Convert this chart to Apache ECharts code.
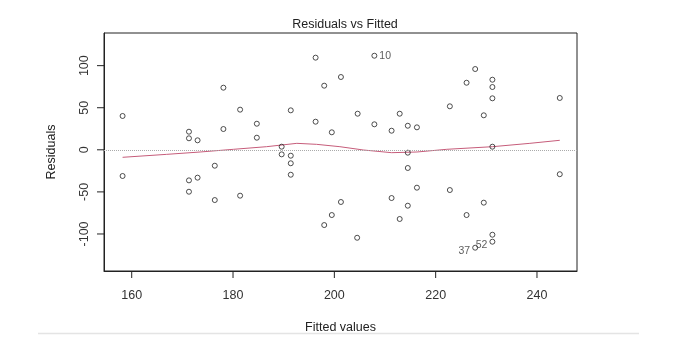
<!DOCTYPE html>
<html>
<head>
<meta charset="utf-8">
<title>Residuals vs Fitted</title>
<script src="https://cdn.jsdelivr.net/npm/echarts@6/dist/echarts.min.js"></script>
<style>
  html, body { margin: 0; padding: 0; background: #fff; }
  #residualChart { width: 674px; height: 354px; }
</style>
</head>
<body>
<div id="residualChart"></div>
<script>
// fitted values / residuals
const fitted = [
  158.2, 171.3, 171.3, 173.0, 178.1, 178.1, 181.4, 184.7, 184.7, 189.6,
  191.4, 196.3, 196.3, 198.0, 199.5, 201.3, 207.9, 204.6, 207.9, 211.3,
  212.9, 214.5, 216.3, 222.8, 226.1, 227.8, 229.5, 231.2, 231.2, 231.2,
  231.2, 244.5,
  158.2, 171.3, 173.0, 171.3, 176.4, 176.4, 181.4, 189.6, 191.4, 191.4,
  191.4, 198.0, 199.5, 201.3, 204.5, 214.5, 214.5, 216.3, 211.3, 214.5,
  212.9, 222.8, 226.1, 229.5, 231.2, 231.2, 227.8, 244.5
];
const residuals = [
  40.2, 21.5, 13.7, 11.3, 73.8, 24.7, 47.7, 31.0, 14.4, 3.7,
  46.9, 109.5, 33.4, 76.2, 20.8, 86.5, 111.8, 42.9, 30.3, 22.7,
  42.9, 28.6, 26.7, 51.7, 79.7, 96.0, 41.0, 83.3, 74.6, 61.2,
  3.7, 61.6,
  -31.1, -36.3, -33.1, -49.8, -18.9, -59.7, -54.5, -5.4, -7.0, -16.0,
  -29.6, -89.4, -77.5, -62.0, -104.5, -3.4, -21.6, -45.0, -57.3, -66.4,
  -82.2, -47.8, -77.5, -62.8, -100.9, -109.2, -116.3, -29.0
];

// observation ids shown next to points
const labelIndex = [16, 57, 58];
const labelText = ['10', '52', '37'];

// smoother (red line)
const smoothX = [158.2, 166.9, 173.5, 180.1, 186.6, 192.6, 196.5, 201.1, 205.7, 211.3, 216.3, 222.2, 231.2, 238.6, 244.5];
const smoothY = [-8.9, -5.4, -2.6, 0.6, 3.7, 7.7, 6.5, 3.7, -0.2, -3.4, -2.6, 0.6, 3.7, 7.7, 11.3];

// axis ticks
const xTicks = [160, 180, 200, 220, 240];
const yTicks = [-100, -50, 0, 50, 100];

// axis ranges
const xMin = 154.53, xMax = 247.9;
const yMin = -144, yMax = 138.8;

const font = 'Liberation Sans, Arial, sans-serif';

let chart = echarts.init(document.getElementById('residualChart'));

let points = fitted.map(function (x, i) {
  let item = { value: [x, residuals[i]] };
  let k = labelIndex.indexOf(i);
  if (k >= 0) {
    item.label = {
      show: true,
      formatter: labelText[k],
      position: labelText[k] === '10' ? 'right' : 'left',
      distance: 2,
      offset: labelText[k] === '10' ? [0, 0] : [0, 3]
    };
  }
  return item;
});

// tick marks outside the box, drawn through the axes' own scale
function tickSeries(data, horizontal) {
  return {
    type: 'custom',
    clip: false,
    silent: true,
    data: data,
    renderItem: function (params, api) {
      let p = api.coord([api.value(0), api.value(1)]);
      let shape = horizontal
        ? { x1: p[0], y1: p[1], x2: p[0], y2: p[1] + 7 }
        : { x1: p[0] - 7, y1: p[1], x2: p[0], y2: p[1] };
      return { type: 'line', shape: shape, style: { stroke: '#222', lineWidth: 1 } };
    }
  };
}

let option = {
  animation: false,
  title: {
    text: 'Residuals vs Fitted',
    left: 340,
    top: 13,
    textAlign: 'center',
    textStyle: { fontFamily: font, fontSize: 12.5, fontWeight: 'normal', color: '#222' }
  },
  grid: {
    left: 104,
    right: 97,
    top: 33,
    bottom: 83,
    show: true,
    borderColor: '#222'
  },
  xAxis: {
    type: 'value',
    min: xMin,
    max: xMax,
    name: 'Fitted values',
    nameLocation: 'middle',
    nameGap: 50,
    nameTextStyle: { fontFamily: font, fontSize: 12.5, color: '#222' },
    axisLine: { show: true, onZero: false, lineStyle: { color: '#222' } },
    axisTick: { show: false },
    axisLabel: { customValues: xTicks, margin: 18, fontFamily: font, fontSize: 12.5, color: '#333' },
    splitLine: { show: false }
  },
  yAxis: {
    type: 'value',
    min: yMin,
    max: yMax,
    name: 'Residuals',
    nameLocation: 'middle',
    nameGap: 46,
    nameTextStyle: { fontFamily: font, fontSize: 12.5, color: '#222' },
    axisLine: { show: true, onZero: false, lineStyle: { color: '#222' } },
    axisTick: { show: false },
    axisLabel: { customValues: yTicks, rotate: 90, margin: 13, fontFamily: font, fontSize: 12.5, color: '#333' },
    splitLine: { show: false }
  },
  graphic: [
    {
      type: 'line',
      shape: { x1: 38, y1: 333.5, x2: 639, y2: 333.5 },
      style: { stroke: '#e4e4e4', lineWidth: 1.5 }
    }
  ],
  series: [
    {
      type: 'scatter',
      data: points,
      symbol: 'circle',
      symbolSize: 5,
      itemStyle: { color: 'rgba(0,0,0,0)', borderColor: '#222', borderWidth: 1 },
      label: { fontFamily: font, fontSize: 10.5, color: '#333' },
      markLine: {
        silent: true,
        symbol: 'none',
        label: { show: false },
        lineStyle: { type: 'dotted', color: '#aaa', width: 1 },
        data: [{ yAxis: 0 }]
      },
      z: 3
    },
    {
      type: 'line',
      data: smoothX.map(function (x, i) { return [x, smoothY[i]]; }),
      showSymbol: false,
      lineStyle: { color: '#c65c7a', width: 1 },
      z: 2
    },
    tickSeries(xTicks.map(function (v) { return [v, yMin]; }), true),
    tickSeries(yTicks.map(function (v) { return [xMin, v]; }), false)
  ]
};

chart.setOption(option);
</script>
</body>
</html>
